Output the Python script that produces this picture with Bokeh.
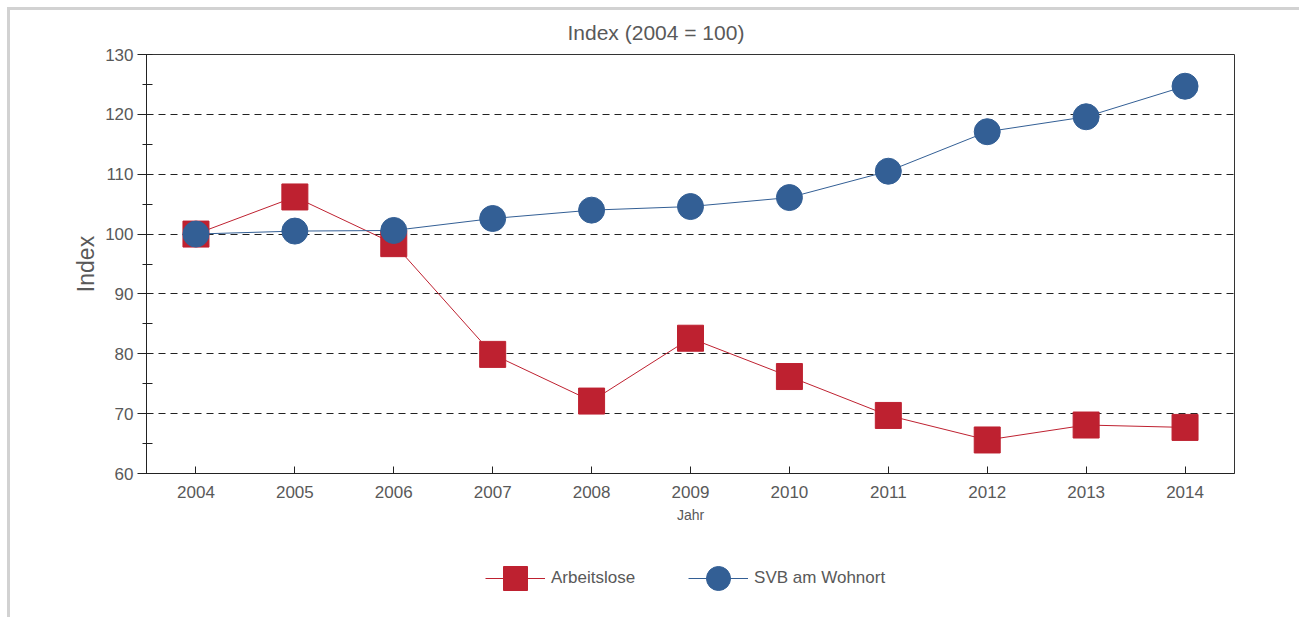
from bokeh.plotting import figure
from bokeh.layouts import column
from bokeh.models import (Range1d, FixedTicker, SingleIntervalTicker, Legend, LegendItem, ColumnDataSource)
from bokeh.embed import file_html
from bokeh.resources import INLINE

years = [2004, 2005, 2006, 2007, 2008, 2009, 2010, 2011, 2012, 2013, 2014]
arbeitslose = [100.0, 106.2, 98.4, 79.9, 72.1, 82.6, 76.2, 69.7, 65.6, 68.1, 67.7]
svb = [100.0, 100.5, 100.6, 102.6, 104.0, 104.6, 106.1, 110.5, 117.1, 119.6, 124.7]
y_ticks = [60, 70, 80, 90, 100, 110, 120, 130]

RED = "#be2130"
BLUE = "#335f95"
TXT = "#595959"
SANS = "Liberation Sans"

src = ColumnDataSource(dict(x=years, a=arbeitslose, s=svb))

p = figure(frame_width=1088, frame_height=419, output_backend="svg", toolbar_location=None,
           x_range=Range1d(2003.5, 2014.5), y_range=Range1d(60, 130),
           min_border_left=136, min_border_right=65, min_border_top=44, min_border_bottom=58,
           background_fill_color="white", border_fill_color="white")

p.outline_line_color = "#333333"
p.outline_line_width = 1

# title
p.title.text = "Index (2004 = 100)"
p.title.align = "left"
p.title.vertical_align = "top"
p.title.offset = 421
p.title.standoff = 18
p.title.text_font = SANS
p.title.text_font_size = "21px"
p.title.text_font_style = "normal"
p.title.text_color = TXT

# x axis
xa = p.xaxis[0]
xa.ticker = FixedTicker(ticks=years)
xa.major_tick_in = 7
xa.major_tick_out = 0
xa.minor_tick_line_color = None
xa.axis_line_color = "#222222"
xa.major_tick_line_color = "#222222"
xa.major_label_text_font = SANS
xa.major_label_text_font_size = "17px"
xa.major_label_text_color = TXT
xa.major_label_standoff = 12
xa.axis_label = "Jahr"
xa.axis_label_text_font = SANS
xa.axis_label_text_font_size = "14px"
xa.axis_label_text_font_style = "normal"
xa.axis_label_text_color = TXT
xa.axis_label_standoff = 6

# y axis
ya = p.yaxis[0]
ya.ticker = SingleIntervalTicker(interval=10, num_minor_ticks=2)
ya.major_tick_in = 0
ya.major_tick_out = 9
ya.minor_tick_in = 6
ya.minor_tick_out = 4
ya.axis_line_color = "#222222"
ya.major_tick_line_color = "#222222"
ya.minor_tick_line_color = "#222222"
ya.major_label_text_font = SANS
ya.major_label_text_font_size = "17px"
ya.major_label_text_color = TXT
ya.major_label_standoff = 4
ya.axis_label = "Index"
ya.axis_label_text_font = SANS
ya.axis_label_text_font_size = "23px"
ya.axis_label_text_font_style = "normal"
ya.axis_label_text_color = TXT
ya.axis_label_standoff = 3

p.xgrid.grid_line_color = None
p.ygrid.ticker = FixedTicker(ticks=y_ticks[1:-1])
p.ygrid.grid_line_color = "#222222"
p.ygrid.grid_line_dash = "7 5"
p.ygrid.grid_line_width = 1

p.line("x", "a", source=src, line_color=RED, line_width=1)
p.scatter("x", "a", source=src, marker="square", size=26, fill_color=RED, line_color=RED)
p.line("x", "s", source=src, line_color=BLUE, line_width=1)
p.scatter("x", "s", source=src, marker="circle", size=26, fill_color=BLUE, line_color=BLUE)

# legend strip below the chart
lg = figure(width=1289, height=86, output_backend="svg", toolbar_location=None,
            x_axis_location=None, y_axis_location=None,
            min_border_left=0, min_border_right=0, min_border_top=0, min_border_bottom=0,
            background_fill_color="white", border_fill_color="white")
lg.outline_line_color = None
lg.xgrid.grid_line_color = None
lg.ygrid.grid_line_color = None
r1 = lg.line("x", "a", source=src, line_color=RED, line_width=1, visible=False)
s1 = lg.scatter("x", "a", source=src, marker="square", fill_color=RED, line_color=RED, visible=False)
r2 = lg.line("x", "s", source=src, line_color=BLUE, line_width=1, visible=False)
s2 = lg.scatter("x", "s", source=src, marker="circle", fill_color=BLUE, line_color=BLUE, visible=False)

legend = Legend(items=[LegendItem(label="Arbeitslose", renderers=[r1, s1]),
                       LegendItem(label="SVB am Wohnort", renderers=[r2, s2])],
                orientation="horizontal", location=(339, 7),
                glyph_width=60, glyph_height=64, label_standoff=6, spacing=53,
                padding=0, margin=0, click_policy="none",
                border_line_color=None, background_fill_alpha=0,
                label_text_font=SANS, label_text_font_size="17px", label_text_color=TXT)
lg.add_layout(legend, "center")

page = column(p, lg, spacing=0,
              styles={"border-top": "3px solid #d2d2d2", "border-left": "3px solid #d2d2d2",
                      "margin-top": "7px", "margin-left": "7px"})

open("out.html", "w").write(file_html(page, INLINE))
